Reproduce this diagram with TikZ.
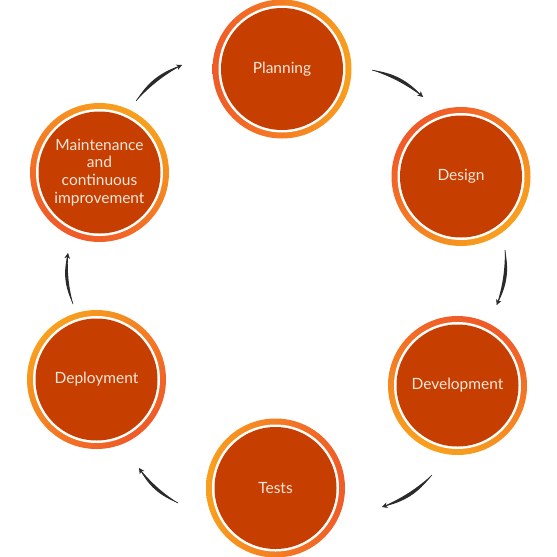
\documentclass[tikz,border=0pt]{standalone}
\usepackage{fontspec}
\setmainfont{Lato}
\usetikzlibrary{arrows.meta,backgrounds}
\definecolor{ringred}{HTML}{F05A28}
\definecolor{ringyel}{HTML}{F8A01E}
\definecolor{innerfill}{HTML}{C63F00}
\definecolor{txtcol}{HTML}{F8E6DC}
\definecolor{arrowcol}{HTML}{2B2B2B}
\newcommand\stagering[2]{%
  \shade[top color=ringred, bottom color=ringyel, shading angle=#2] (#1.center) circle (69.5);
  \fill[white] (#1.center) circle (63.5);
}
\newcommand\cycarrow[2]{%
  \fill[arrowcol] (#1) to[bend left=20] (#2) to[bend right=8] (#1);
  \draw[arrowcol, line width=0.6pt, -{Stealth[length=5.5pt,width=5.5pt,inset=1.5pt]}] (#1) to[bend left=14] (#2);
}
\tikzset{
  stage/.style={circle, fill=innerfill, minimum size=122pt, inner sep=0pt,
    text=txtcol, align=center, font=\fontsize{15.5}{17.7}\selectfont}
}
\begin{document}
\begin{tikzpicture}[x=1pt,y=-1pt]
\useasboundingbox (0,0) rectangle (557,557);
\node[stage] (plan) at (282,69) {Planning};
\node[stage] (design) at (461,176.5) {Design};
\node[stage] (dev) at (457.5,385.5) {Development};
\node[stage] (tests) at (275.5,488) {Tests};
\node[stage] (deploy) at (96.5,379.5) {Deployment};
\node[stage] (maint) at (99.5,172.5) {Maintenance\\and\\continuous\\improvement};
\begin{scope}[on background layer]
  \stagering{plan}{90}
  \stagering{design}{45}
  \stagering{dev}{-20}
  \stagering{tests}{-90}
  \stagering{deploy}{-135}
  \stagering{maint}{150}
\end{scope}
\coordinate (a1s) at (372,70);   \coordinate (a1e) at (423,97);
\coordinate (a2s) at (505,250);  \coordinate (a2e) at (496.7,305);
\coordinate (a3s) at (432,475);  \coordinate (a3e) at (382,507);
\coordinate (a4s) at (178,503);  \coordinate (a4e) at (139,468);
\coordinate (a5s) at (73,304);   \coordinate (a5e) at (68,253);
\coordinate (a6s) at (136,101);  \coordinate (a6e) at (182,65);
\cycarrow{a1s}{a1e}
\cycarrow{a2s}{a2e}
\cycarrow{a3s}{a3e}
\cycarrow{a4s}{a4e}
\cycarrow{a5s}{a5e}
\cycarrow{a6s}{a6e}
\end{tikzpicture}
\end{document}
